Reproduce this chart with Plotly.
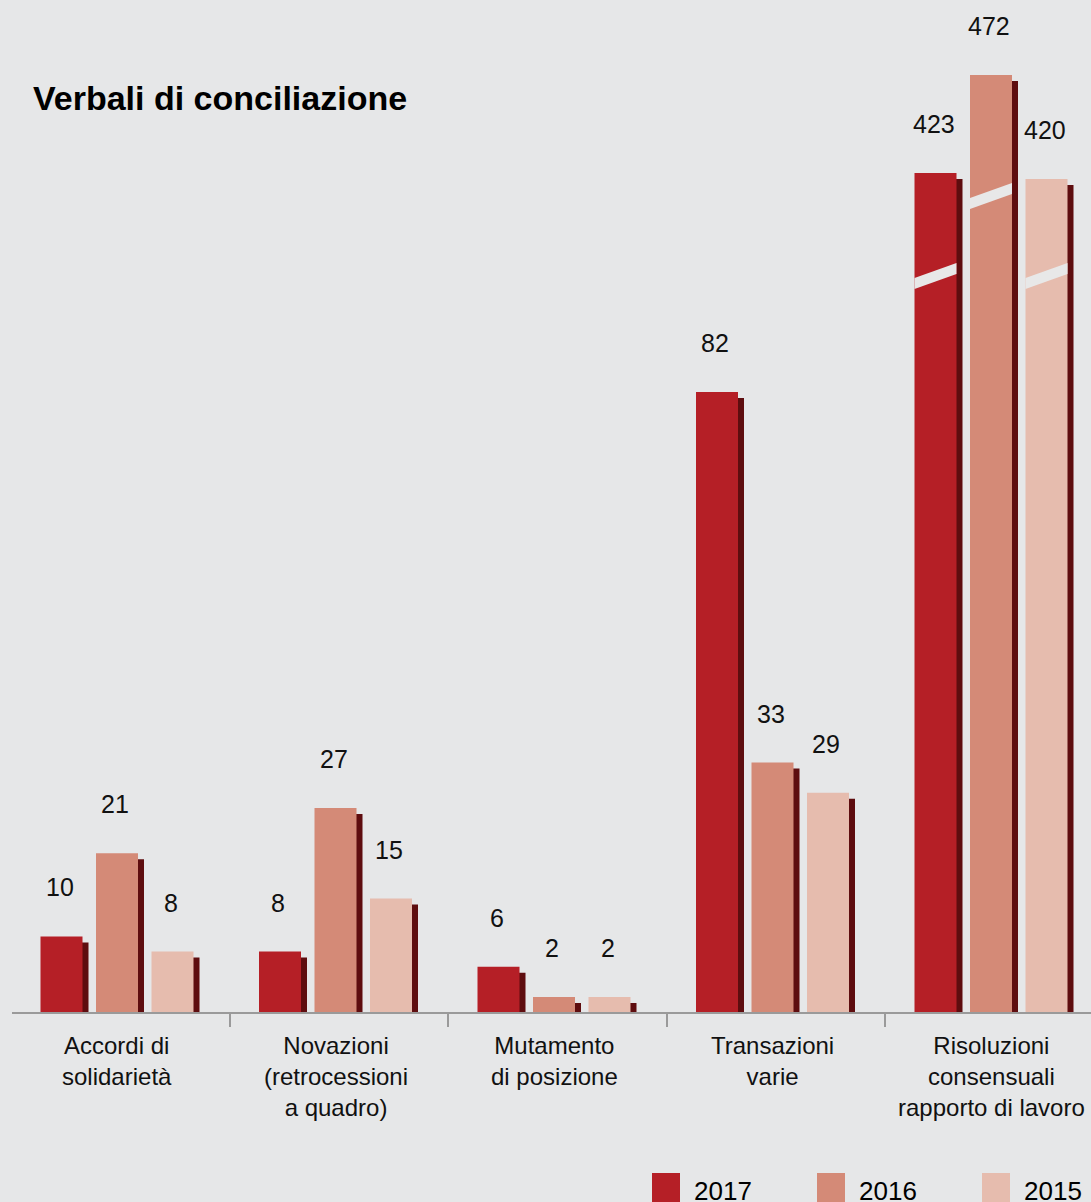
import plotly.graph_objects as go

# ---------------- data ----------------
categories = [
    "Accordi di<br>solidarietà",
    "Novazioni<br>(retrocessioni<br>a quadro)",
    "Mutamento<br>di posizione",
    "Transazioni<br>varie",
    "Risoluzioni<br>consensuali<br>rapporto di lavoro",
]
years = ["2017", "2016", "2015"]
values_2017 = [10, 8, 6, 82, 423]
values_2016 = [21, 27, 2, 33, 472]
values_2015 = [8, 15, 2, 29, 420]
series = [values_2017, values_2016, values_2015]
title_text = "Verbali di conciliazione"

# ---------------- style / layout ----------------
colors = ["#b51f26", "#d48a77", "#e6bcae"]
shadow_color = "#5e0d0f"
bg = "#e6e7e8"
FONT = "Helvetica Neue, Liberation Sans, Arial, sans-serif"

W, H = 1091, 1202
base_px = 1012          # baseline pixel row
group0_px = 117         # center of first group
step_px = 218.5         # distance between groups
scale_low = 7.56        # px per unit, normal axis
scale_high = 2.0        # px per unit, broken axis (last group)
high_start = 3.5        # broken-axis value at baseline
broken_group = 4

x_dom = [12 / W, 1]
x_range = [(12 - group0_px) / step_px, (W - group0_px) / step_px]
y_dom = [1 - base_px / H, 1]
y_range = [0, base_px / scale_low]
y2_range = [high_start, high_start + base_px / scale_high]

bar_w = 42 / step_px
offsets = [-55.5 / step_px, 0, 55.5 / step_px]
sh_dx = 6 / step_px
sh_px = 6
label_shift = 49

fig = go.Figure()

# shadows first
for k, vals in enumerate(series):
    for axis in ("y", "y2"):
        idx = [i for i in range(len(vals)) if (i == broken_group) == (axis == "y2")]
        sc = scale_high if axis == "y2" else scale_low
        fig.add_trace(go.Bar(
            x=[i + offsets[k] + sh_dx for i in idx],
            y=[vals[i] - sh_px / sc for i in idx],
            width=[bar_w] * len(idx),
            marker=dict(color=shadow_color, line=dict(width=0)),
            yaxis=axis, showlegend=False, hoverinfo="skip",
        ))

# main bars
for k, vals in enumerate(series):
    for axis in ("y", "y2"):
        idx = [i for i in range(len(vals)) if (i == broken_group) == (axis == "y2")]
        fig.add_trace(go.Bar(
            x=[i + offsets[k] for i in idx],
            y=[vals[i] for i in idx],
            width=[bar_w] * len(idx),
            marker=dict(color=colors[k], line=dict(width=0)),
            yaxis=axis, name=years[k], showlegend=False,
        ))

annotations = []
# value labels
for k, vals in enumerate(series):
    for i, v in enumerate(vals):
        annotations.append(dict(
            x=i + offsets[k] - 2 / step_px, y=v,
            xref="x", yref="y2" if i == broken_group else "y",
            text=str(v), showarrow=False, yshift=label_shift,
            font=dict(size=25, color="#111111", family=FONT),
        ))

# category labels
for i, c in enumerate(categories):
    annotations.append(dict(
        x=i, y=1 - 1030 / H, xref="x", yref="paper",
        text=c, showarrow=False, xanchor="center", yanchor="top",
        font=dict(size=24, color="#111111", family=FONT),
    ))

# title
annotations.append(dict(
    x=31 / W, y=1 - 98 / H, xref="paper", yref="paper",
    text="<b>" + title_text + "</b>", showarrow=False,
    xanchor="left", yanchor="middle",
    font=dict(size=34, color="#000000", family=FONT),
))

shapes = []
# legend (manual)
leg_sq_x = [652, 817, 982]
for k, yr in enumerate(years):
    x0 = leg_sq_x[k]
    shapes.append(dict(
        type="rect", xref="paper", yref="paper",
        x0=x0 / W, x1=(x0 + 28) / W, y0=1 - 1173 / H, y1=0,
        fillcolor=colors[k], line=dict(width=0), layer="above",
    ))
    annotations.append(dict(
        x=(x0 + 40) / W, y=1 - 1191 / H, xref="paper", yref="paper",
        text=yr, showarrow=False, xanchor="left", yanchor="middle",
        font=dict(size=26, color="#000000", family=FONT),
    ))

# axis-break slashes on the last group
break_levels = [371.5, 411.5, 371.5]
slash_h = 5.5
slash_rise = 7.5
for k in range(3):
    xl = broken_group + offsets[k] - bar_w / 2
    xr = broken_group + offsets[k] + bar_w / 2
    b = break_levels[k]
    y_l0 = b - slash_rise / 2 - slash_h / 2
    y_r0 = b + slash_rise / 2 - slash_h / 2
    path = (f"M {xl},{y_l0} L {xr},{y_r0} L {xr},{y_r0 + slash_h} "
            f"L {xl},{y_l0 + slash_h} Z")
    shapes.append(dict(
        type="path", path=path, xref="x", yref="y2",
        fillcolor="#e8e8e8", line=dict(width=0), layer="above",
    ))

fig.update_layout(
    width=W, height=H,
    margin=dict(l=0, r=0, t=0, b=0),
    paper_bgcolor=bg, plot_bgcolor=bg,
    barmode="overlay",
    showlegend=False,
    xaxis=dict(
        domain=x_dom, range=x_range,
        showgrid=False, zeroline=False,
        showline=True, linecolor="#9a9a9a", linewidth=2,
        tickmode="array", tickvals=[0.515, 1.515, 2.515, 3.515],
        ticktext=["", "", "", ""],
        ticks="outside", ticklen=13, tickwidth=1.5, tickcolor="#9a9a9a",
        fixedrange=True,
    ),
    yaxis=dict(domain=y_dom, range=y_range, visible=False, fixedrange=True),
    yaxis2=dict(domain=y_dom, range=y2_range, overlaying="y",
                visible=False, fixedrange=True),
    annotations=annotations,
    shapes=shapes,
    font=dict(family=FONT),
)

fig.write_html(
    "out.html",
    config={"displayModeBar": False},
    post_script="document.body.style.margin='0';"
                "document.body.style.overflow='hidden';"
                "document.body.style.background='" + bg + "';",
)
